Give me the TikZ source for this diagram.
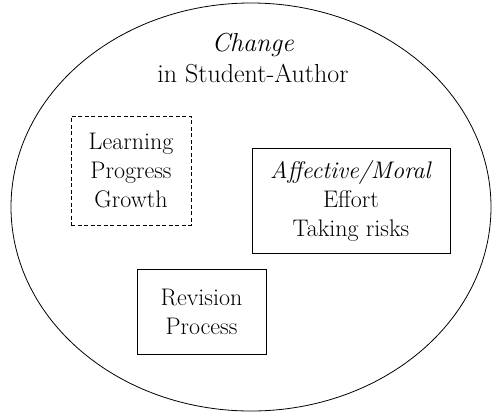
\documentclass[tikz,border=0pt]{standalone}
\usetikzlibrary{calc}

\begin{document}
\begin{tikzpicture} [x=1pt, y=-1pt]
\tikzset{
 box/.style={draw, line width=.9pt, align=center, inner sep=0pt, font=\fontsize{24}{29}\selectfont},
 dashbox/.style={box, dash pattern=on 4pt off 2.5pt},
 caption/.style={align=center, font=\fontsize{26}{31}\selectfont}
}
\useasboundingbox (0,0) rectangle (492,413);
\draw[line width=.8pt] (251,207) ellipse (240 and 204);
\node[caption] (title) at (253,58) {\textit{Change}\\in Student-Author};
\node[dashbox, minimum width=120, minimum height=109] (learn) at (131,170.5) {Learning\\Progress\\Growth};
\node[box, minimum width=198, minimum height=105] (moral) at (351,200.5) {\textit{Affective/Moral}\\Effort\\Taking risks};
\node[box, minimum width=129, minimum height=85] (revis) at (201.5,311.5) {Revision\\Process};
\end{tikzpicture}
\end{document}
